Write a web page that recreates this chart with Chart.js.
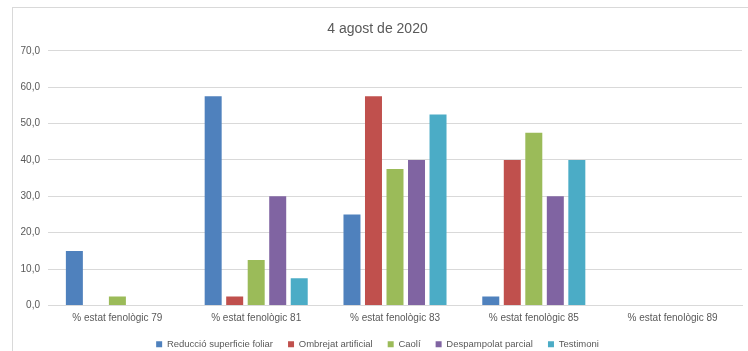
<!DOCTYPE html>
<html lang="ca">
<head>
    <meta charset="UTF-8">
    <title>4 agost de 2020</title>
    <style>
        body {
            margin: 0;
            background: #ffffff;
            overflow: hidden;
            font-family: "Liberation Sans", Arial, sans-serif;
        }
        .frame {
            position: absolute;
            left: 12px;
            top: 7px;
            width: 736px;
            height: 344px;
            border-left: 1px solid #d9d9d9;
            border-top: 1px solid #d9d9d9;
            box-sizing: border-box;
            overflow: hidden;
        }
        .chart-box {
            position: absolute;
            left: 0;
            top: 0;
            width: 735px;
            height: 351px;
        }
    </style>
</head>
<body>
    <div class="frame">
        <div class="chart-box">
            <canvas id="chart"></canvas>
        </div>
    </div>
    <script src="https://cdn.jsdelivr.net/npm/chart.js"></script>
    <script>
        const categories = ['% estat fenològic 79', '% estat fenològic 81', '% estat fenològic 83', '% estat fenològic 85', '% estat fenològic 89'];
        const seriesNames = ['Reducció superficie foliar', 'Ombrejat artificial', 'Caolí', 'Despampolat parcial', 'Testimoni'];
        const reduccio = [15, 57.5, 25, 2.5, 0];
        const ombrejat = [0, 2.5, 57.5, 40, 0];
        const caoli = [2.5, 12.5, 37.5, 47.5, 0];
        const despampolat = [0, 30, 40, 30, 0];
        const testimoni = [0, 7.5, 52.5, 40, 0];
        const colors = ['#4f81bd', '#c0504d', '#9bbb59', '#8064a2', '#4bacc6'];

        const values = [reduccio, ombrejat, caoli, despampolat, testimoni];

        const ctx = document.getElementById('chart').getContext('2d');
        new Chart(ctx, {
            type: 'bar',
            data: {
                labels: categories,
                datasets: values.map((v, i) => ({
                    label: seriesNames[i],
                    data: v,
                    backgroundColor: colors[i],
                    borderWidth: 0,
                    categoryPercentage: 0.775,
                    barPercentage: 0.79
                }))
            },
            options: {
                responsive: true,
                maintainAspectRatio: false,
                animation: false,
                layout: {
                    padding: { left: 0, right: 6, top: 4, bottom: 0 }
                },
                plugins: {
                    title: {
                        display: true,
                        text: '4 agost de 2020',
                        color: '#595959',
                        font: { family: 'Liberation Sans', size: 14, weight: 'normal' },
                        padding: { top: 9, bottom: 13 }
                    },
                    legend: {
                        position: 'bottom',
                        labels: {
                            color: '#595959',
                            font: { family: 'Liberation Sans', size: 9.5 },
                            boxWidth: 6,
                            boxHeight: 6,
                            padding: 15
                        }
                    },
                    tooltip: { enabled: false }
                },
                scales: {
                    x: {
                        afterFit: scale => { scale.height = 19; },
                        grid: { display: false, drawTicks: false },
                        border: { color: '#d9d9d9' },
                        ticks: {
                            color: '#595959',
                            font: { family: 'Liberation Sans', size: 10 },
                            maxRotation: 0,
                            padding: 7
                        }
                    },
                    y: {
                        min: 0,
                        max: 70,
                        afterFit: scale => { scale.width = 35; },
                        grid: { color: '#d9d9d9', drawTicks: false },
                        border: { display: false },
                        ticks: {
                            stepSize: 10,
                            color: '#595959',
                            font: { family: 'Liberation Sans', size: 10 },
                            padding: 8,
                            callback: v => v.toFixed(1).replace('.', ',')
                        }
                    }
                }
            }
        });
    </script>
</body>
</html>
